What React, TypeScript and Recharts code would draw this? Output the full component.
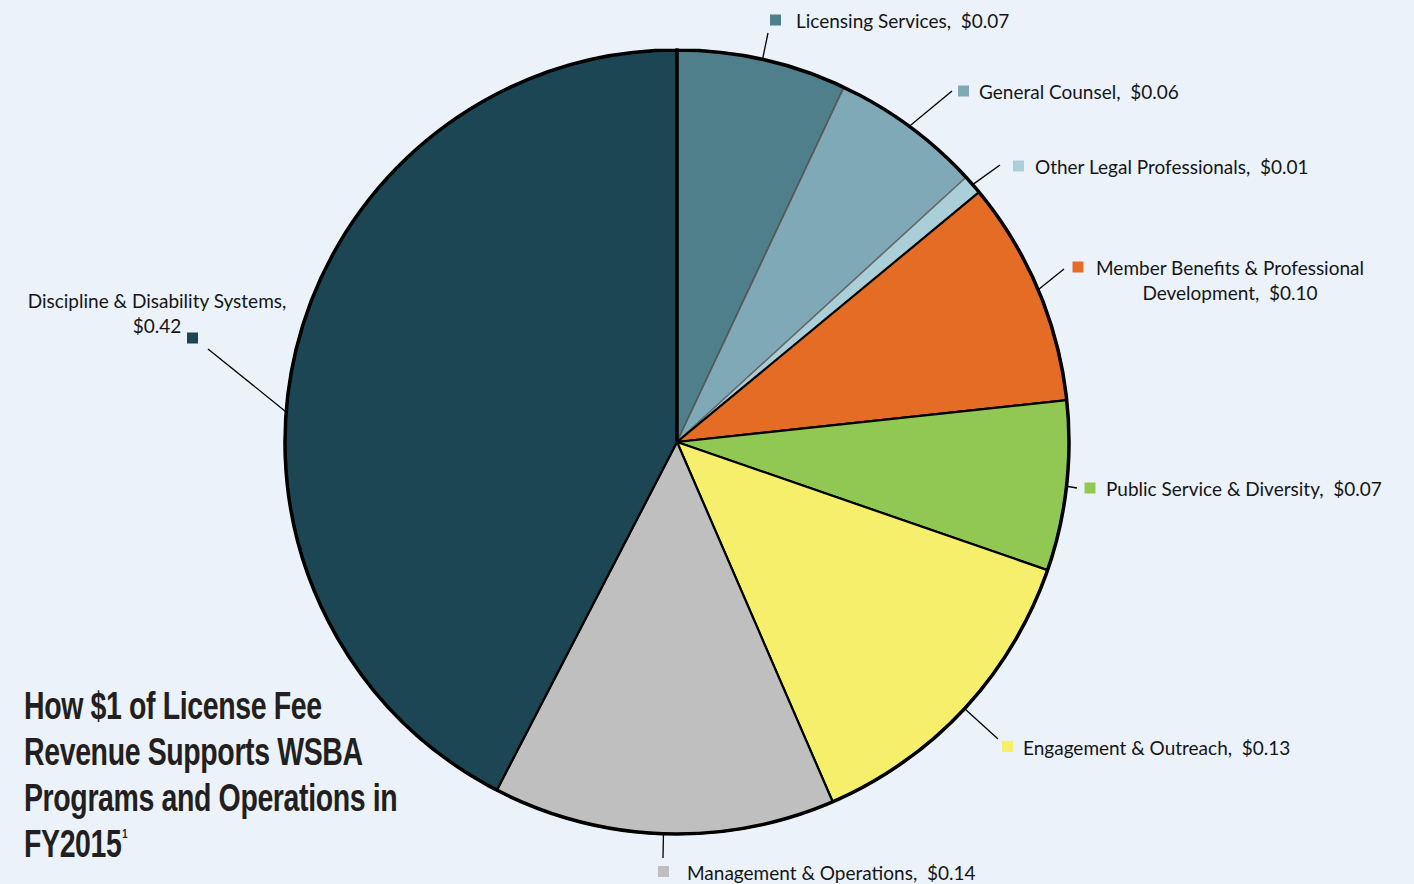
import { PieChart, Pie, Cell } from 'recharts';

const categories = [
  'Licensing Services',
  'General Counsel',
  'Other Legal Professionals',
  'Member Benefits & Professional Development',
  'Public Service & Diversity',
  'Engagement & Outreach',
  'Management & Operations',
  'Discipline & Disability Systems',
];
// share of each $1 (slice sizes)
const shares = [0.07, 0.062, 0.008, 0.093, 0.07, 0.132, 0.141, 0.424];
// amounts as printed on the labels
const amounts = ['$0.07', '$0.06', '$0.01', '$0.10', '$0.07', '$0.13', '$0.14', '$0.42'];

const colors = ['#4e7f8b', '#7fa9b6', '#abcfd9', '#e46c24', '#91c853', '#f6ef6c', '#bfbfbf', '#1c4653'];
const strokes = ['#333', '#5a5a5a', '#6a6a6a', '#000', '#000', '#000', '#000', '#000'];

const data = categories.map((name, i) => ({ name, value: shares[i], amount: amounts[i] }));

const W = 1414;
const H = 884;
const BG = '#ebf2fa';
const FONT = 'Lato, "Open Sans", sans-serif';
const RAD = Math.PI / 180;

// label placement relative to the pie centre
type LabelLayout = {
  end: [number, number];
  box: [number, number];
  text: [number, number];
  anchor: 'start' | 'middle';
  lines?: string[];
  angle?: number;
};

const layout: LabelLayout[] = [
  { end: [91, -409], box: [98.5, -422], text: [119, -422], anchor: 'start' },
  { end: [275, -351], box: [286.5, -351], text: [302, -351], anchor: 'start' },
  { end: [323, -277], box: [341.5, -276], text: [358, -276], anchor: 'start' },
  {
    end: [387, -173],
    box: [401, -175],
    text: [553, -175],
    anchor: 'middle',
    lines: ['Member Benefits & Professional', 'Development,  $0.10'],
  },
  { end: [400, 46], box: [413, 46], text: [429, 46], anchor: 'start' },
  { end: [321, 297], box: [330.5, 304.5], text: [346, 305], anchor: 'start' },
  { end: [-14, 416], box: [-13.5, 429.5], text: [10, 430], anchor: 'start' },
  {
    end: [-469, -93],
    box: [-484.5, -104],
    text: [-520, -142],
    anchor: 'middle',
    lines: ['Discipline & Disability Systems,', '$0.42'],
    angle: 175.6,
  },
];

const renderLabel = (props: any) => {
  const { cx, cy, midAngle, outerRadius, index, name, payload } = props;
  const l = layout[index];
  const a = (l.angle ?? midAngle) * RAD;
  const sx = cx + outerRadius * Math.cos(a);
  const sy = cy - outerRadius * Math.sin(a);
  const lines = l.lines ?? [`${name},  ${payload.amount}`];
  return (
    <g key={`lbl-${index}`}>
      <line x1={sx} y1={sy} x2={cx + l.end[0]} y2={cy + l.end[1]} stroke="#000" strokeWidth={1.3} />
      <rect x={cx + l.box[0] - 5.5} y={cy + l.box[1] - 5.5} width={11} height={11} fill={colors[index]} />
      {lines.map((t, j) => (
        <text
          key={j}
          x={cx + l.text[0]}
          y={cy + l.text[1] + j * 25}
          textAnchor={l.anchor}
          dominantBaseline="central"
          fontFamily={FONT}
          fontSize={19}
          fill="#161616"
          style={{ whiteSpace: 'pre' }}
        >
          {t}
        </text>
      ))}
    </g>
  );
};

const titleLines = ['How $1 of License Fee', 'Revenue Supports WSBA', 'Programs and Operations in', 'FY2015'];

export default function App() {
  return (
    <div style={{ position: 'absolute', left: 0, top: 0, width: W, height: H, background: BG, overflow: 'hidden' }}>
      <PieChart width={W} height={H} margin={{ top: 0, right: 0, bottom: 0, left: 0 }}>
        <Pie
          data={data}
          dataKey="value"
          nameKey="name"
          cx={677}
          cy={442}
          outerRadius={392}
          startAngle={90}
          endAngle={-270}
          label={renderLabel}
          labelLine={false}
          isAnimationActive={false}
        >
          {data.map((d, i) => (
            <Cell key={d.name} fill={colors[i]} stroke={strokes[i]} strokeWidth={i < 3 ? 1.5 : 2.2} />
          ))}
        </Pie>
        <Pie
          data={[{ name: 'outline', value: 1 }]}
          dataKey="value"
          cx={677}
          cy={442}
          outerRadius={392}
          startAngle={90}
          endAngle={-270}
          fill="none"
          stroke="#000"
          strokeWidth={3.5}
          isAnimationActive={false}
        />
      </PieChart>
      <div
        style={{
          position: 'absolute',
          left: 24,
          top: 683,
          fontFamily: '"Liberation Sans", Arial, sans-serif',
          fontWeight: 700,
          fontSize: 39,
          lineHeight: '46px',
          color: '#231f20',
          transform: 'scaleX(0.73)',
          transformOrigin: 'left top',
          whiteSpace: 'nowrap',
          letterSpacing: -0.5,
        }}
      >
        {titleLines.map((t, i) => (
          <div key={i}>
            {t}
            {i === titleLines.length - 1 && (
              <span style={{ fontSize: 13, position: 'relative', top: -19, marginLeft: 1 }}>1</span>
            )}
          </div>
        ))}
      </div>
    </div>
  );
}
